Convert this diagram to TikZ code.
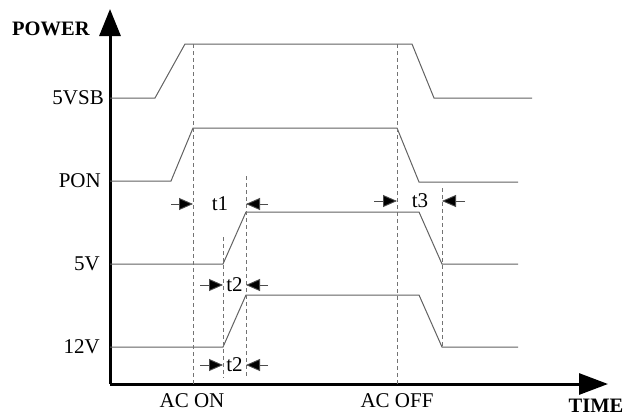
\documentclass[tikz,border=0pt]{standalone}
\usepackage{fontspec}
\setmainfont{Liberation Serif}
\usetikzlibrary{arrows.meta}
\begin{document}
\begin{tikzpicture}[x=1pt,y=-1pt,
  lbl/.style={font=\fontsize{21}{23}\selectfont, inner sep=0pt},
  axlbl/.style={font=\fontsize{20.5}{23}\selectfont\bfseries, inner sep=0pt},
  sig/.style={draw=black!62, line width=1pt, line join=miter},
  guide/.style={draw=black!55, line width=0.9pt, dash pattern=on 4pt off 3pt},
  dimarrow/.style={draw=black!70, line width=0.9pt, -{Triangle[length=14pt,width=12pt,fill=black]}},
  axis/.style={draw=black, line width=3pt}]
\useasboundingbox (0,0) rectangle (626,418);

% axes
\coordinate (O) at (110,384);
\coordinate (Ytop) at (110,9);
\coordinate (Xend) at (608,384);
\draw[axis, -{Triangle[length=27pt,width=21pt]}] (O) -- (Ytop);
\draw[axis, -{Triangle[length=29pt,width=21pt]}] (O) -- (Xend);

\node[axlbl, anchor=west] (power) at (12,29) {POWER};
\node[axlbl] (time) at (596,406) {TIME};

% level labels
\node[lbl, anchor=east] (l5vsb) at (104,98) {5VSB};
\node[lbl, anchor=east] (lpon) at (101,181) {PON};
\node[lbl, anchor=east] (l5v) at (100,264) {5V};
\node[lbl, anchor=east] (l12v) at (100,347) {12V};
\node[lbl] (acon) at (192,401) {AC ON};
\node[lbl] (acoff) at (397,401) {AC OFF};

% 5VSB
\coordinate (a0) at (110,98); \coordinate (a1) at (155,98);
\coordinate (a2) at (185,44); \coordinate (a3) at (412,44);
\coordinate (a4) at (434,98); \coordinate (a5) at (532,98);
\draw[sig] (a0) -- (a1) -- (a2) -- (a3) -- (a4) -- (a5);

% PON
\coordinate (b0) at (110,181); \coordinate (b1) at (171,181);
\coordinate (b2) at (193,128); \coordinate (b3) at (397,128);
\coordinate (b4) at (419,182); \coordinate (b5) at (518,182);
\draw[sig] (b0) -- (b1) -- (b2) -- (b3) -- (b4) -- (b5);

% 5V
\coordinate (c0) at (110,264); \coordinate (c1) at (223,264);
\coordinate (c2) at (246,212); \coordinate (c3) at (419,212);
\coordinate (c4) at (442,264); \coordinate (c5) at (518,264);
\draw[sig] (c0) -- (c1) -- (c2) -- (c3) -- (c4) -- (c5);

% 12V
\coordinate (d0) at (110,347); \coordinate (d1) at (223,347);
\coordinate (d2) at (246,295); \coordinate (d3) at (419,295);
\coordinate (d4) at (442,347); \coordinate (d5) at (518,347);
\draw[sig] (d0) -- (d1) -- (d2) -- (d3) -- (d4) -- (d5);

% dashed guides
\coordinate (g1t) at (193,44);  \coordinate (g1b) at (193,384);
\coordinate (g2t) at (397,44);  \coordinate (g2b) at (397,384);
\coordinate (g3t) at (246,176); \coordinate (g3b) at (246,378);
\coordinate (g4t) at (223,237); \coordinate (g4b) at (223,378);
\coordinate (g5t) at (442,188); \coordinate (g5b) at (442,347);
\draw[guide] (g1t) -- (g1b);
\draw[guide] (g2t) -- (g2b);
\draw[guide] (g3t) -- (g3b);
\draw[guide] (g4t) -- (g4b);
\draw[guide] (g5t) -- (g5b);

% t1
\coordinate (t1l) at (171,204); \coordinate (t1a) at (193,204);
\coordinate (t1r) at (268,204); \coordinate (t1b) at (246,204);
\draw[dimarrow] (t1l) -- (t1a);
\draw[dimarrow] (t1r) -- (t1b);
\node[lbl] (t1) at (220,204) {t1};

% t3
\coordinate (t3l) at (374,201); \coordinate (t3a) at (397,201);
\coordinate (t3r) at (465,201); \coordinate (t3b) at (442,201);
\draw[dimarrow] (t3l) -- (t3a);
\draw[dimarrow] (t3r) -- (t3b);
\node[lbl] (t3) at (420,201) {t3};

% t2 (upper)
\coordinate (u2l) at (200,285); \coordinate (u2a) at (223,285);
\coordinate (u2r) at (268,285); \coordinate (u2b) at (246,285);
\draw[dimarrow] (u2l) -- (u2a);
\draw[dimarrow] (u2r) -- (u2b);
\node[lbl] (t2u) at (234.5,285) {t2};

% t2 (lower)
\coordinate (w2l) at (200,365); \coordinate (w2a) at (223,365);
\coordinate (w2r) at (268,365); \coordinate (w2b) at (246,365);
\draw[dimarrow] (w2l) -- (w2a);
\draw[dimarrow] (w2r) -- (w2b);
\node[lbl] (t2d) at (234.5,365) {t2};
\end{tikzpicture}
\end{document}
